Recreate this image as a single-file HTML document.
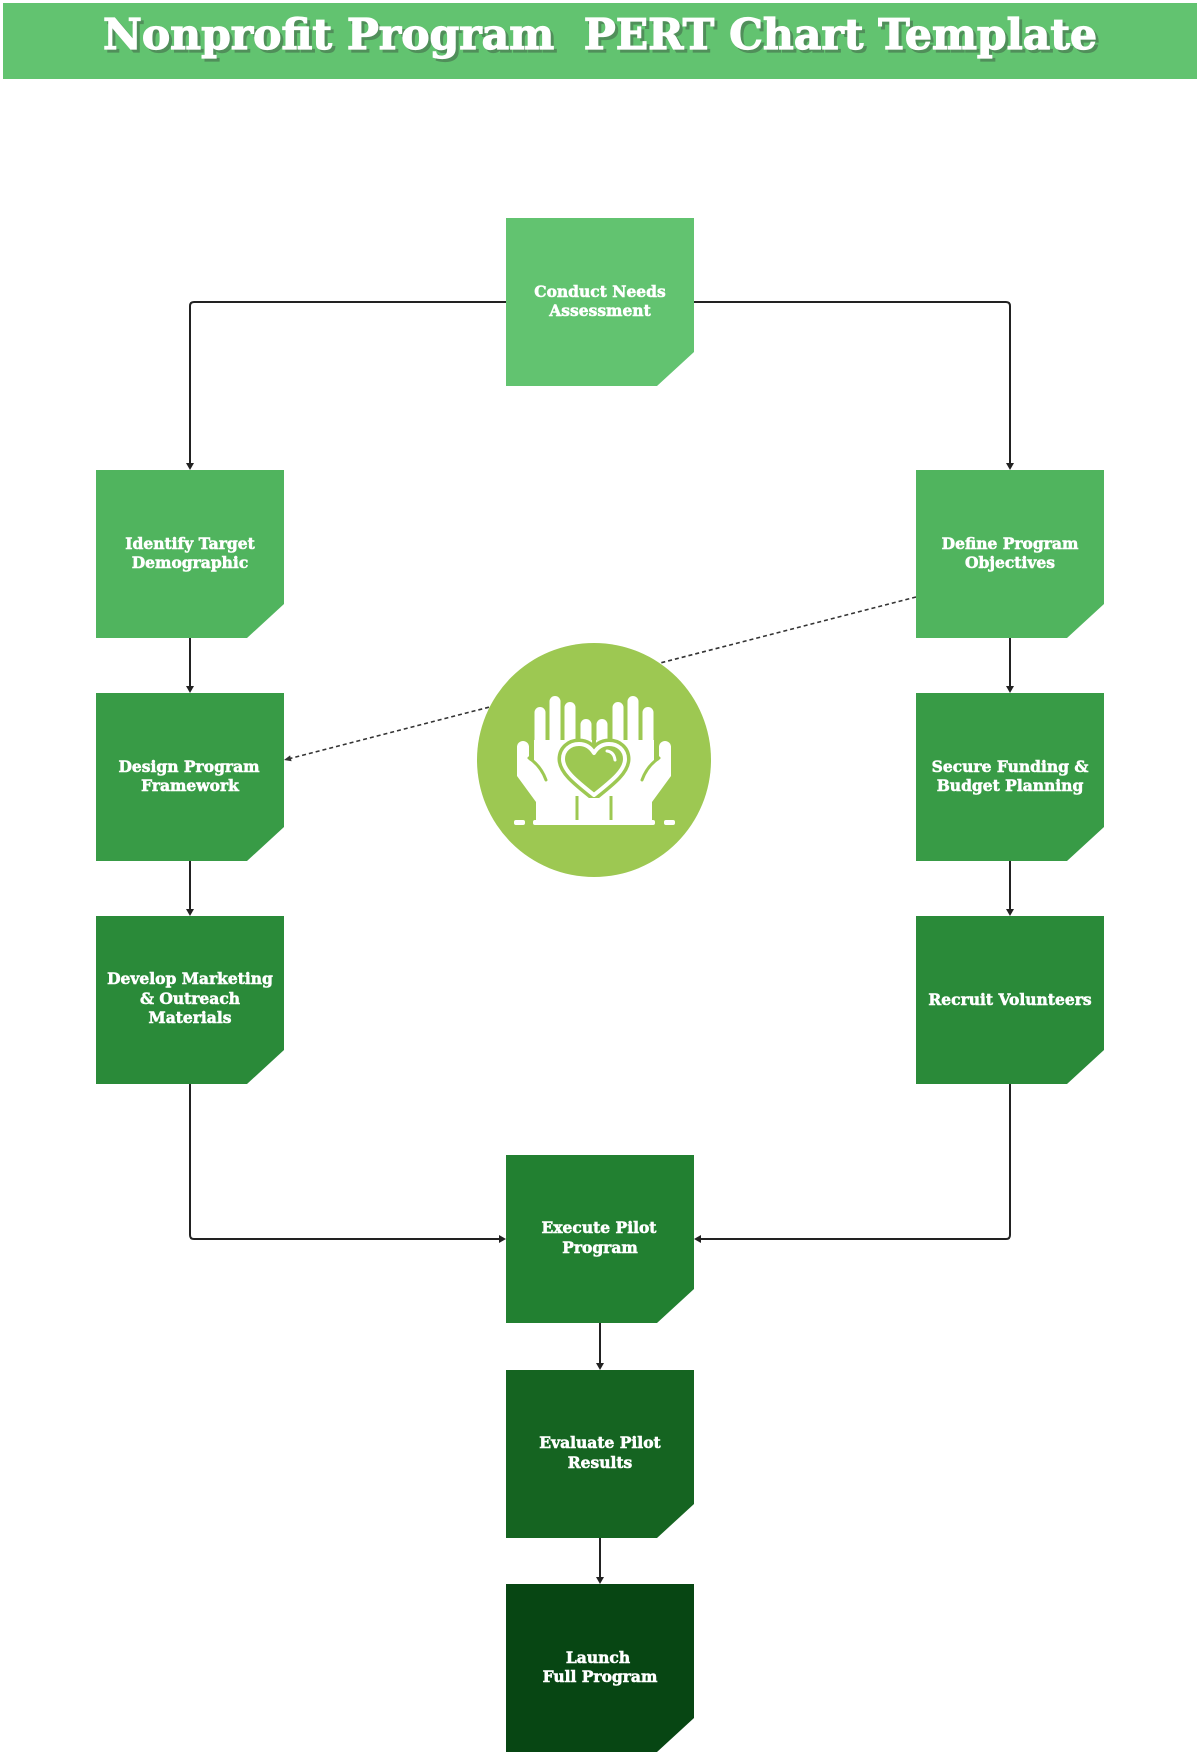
<!DOCTYPE html>
<html>
<head>
<meta charset="utf-8">
<style>
  html, body { margin:0; padding:0; background:#ffffff; }
  body { width:1200px; height:1755px; overflow:hidden; }
  svg { display:block; }
  .t { font-family:"DejaVu Serif","Liberation Serif",serif; font-weight:bold; font-size:15.5px; fill:#ffffff; stroke:#ffffff; stroke-width:0.55px; text-anchor:middle; }
  .title { font-family:"DejaVu Serif","Liberation Serif",serif; font-weight:bold; font-size:42.5px; text-anchor:middle; white-space:pre; }
</style>
</head>
<body>
<svg width="1200" height="1755" viewBox="0 0 1200 1755" xmlns="http://www.w3.org/2000/svg">
  <!-- Title bar -->
  <rect x="3" y="3" width="1194" height="76" fill="#62c370"/>
  <text class="title" x="603" y="52" fill="#4f8a58" stroke="#4f8a58" stroke-width="1.2" opacity="0.9">Nonprofit Program  PERT Chart Template</text>
  <text class="title" x="600" y="49" fill="#ffffff" stroke="#ffffff" stroke-width="1.2">Nonprofit Program  PERT Chart Template</text>

  <!-- Connectors -->
  <g fill="none" stroke="#222" stroke-width="2">
    <path d="M506 302 H194 Q190 302 190 306 V464"/>
    <path d="M694 302 H1006 Q1010 302 1010 306 V464"/>
    <path d="M190 638 V687"/>
    <path d="M190 861 V910"/>
    <path d="M1010 638 V687"/>
    <path d="M1010 861 V910"/>
    <path d="M190 1084 V1235 Q190 1239 194 1239 H499"/>
    <path d="M1010 1084 V1235 Q1010 1239 1006 1239 H701"/>
    <path d="M600 1323 V1364"/>
    <path d="M600 1538 V1578"/>
  </g>
  <g fill="#222">
    <polygon points="186,463 194,463 190,470"/>
    <polygon points="1006,463 1014,463 1010,470"/>
    <polygon points="186,686 194,686 190,693"/>
    <polygon points="186,909 194,909 190,916"/>
    <polygon points="1006,686 1014,686 1010,693"/>
    <polygon points="1006,909 1014,909 1010,916"/>
    <polygon points="499,1235 499,1243 506,1239"/>
    <polygon points="701,1235 701,1243 694,1239"/>
    <polygon points="596,1363 604,1363 600,1370"/>
    <polygon points="596,1577 604,1577 600,1584"/>
  </g>
  <!-- Dotted connector -->
  <line x1="916" y1="597" x2="290" y2="758.5" stroke="#333" stroke-width="1.6" stroke-dasharray="4,3"/>
  <polygon points="284,760 291.6,761.3 290.1,755.4" fill="#333"/>

  <!-- Boxes -->
  <polygon points="506,218 694,218 694,352 657,386 506,386" fill="#62c370"/>
  <polygon points="96,470 284,470 284,604 247,638 96,638" fill="#50b45e"/>
  <polygon points="916,470 1104,470 1104,604 1067,638 916,638" fill="#50b45e"/>
  <polygon points="96,693 284,693 284,827 247,861 96,861" fill="#389b46"/>
  <polygon points="916,693 1104,693 1104,827 1067,861 916,861" fill="#389b46"/>
  <polygon points="96,916 284,916 284,1050 247,1084 96,1084" fill="#2a8a39"/>
  <polygon points="916,916 1104,916 1104,1050 1067,1084 916,1084" fill="#2a8a39"/>
  <polygon points="506,1155 694,1155 694,1289 657,1323 506,1323" fill="#228031"/>
  <polygon points="506,1370 694,1370 694,1504 657,1538 506,1538" fill="#156421"/>
  <polygon points="506,1584 694,1584 694,1718 657,1752 506,1752" fill="#074613"/>

  <!-- Box labels -->
  <text class="t" x="600" y="297">Conduct Needs</text>
  <text class="t" x="600" y="316">Assessment</text>

  <text class="t" x="190" y="549">Identify Target</text>
  <text class="t" x="190" y="568">Demographic</text>

  <text class="t" x="1010" y="549">Define Program</text>
  <text class="t" x="1010" y="568">Objectives</text>

  <text class="t" x="189" y="772">Design Program</text>
  <text class="t" x="190" y="791">Framework</text>

  <text class="t" x="1010" y="772">Secure Funding &amp;</text>
  <text class="t" x="1010" y="791">Budget Planning</text>

  <text class="t" x="190" y="984">Develop Marketing</text>
  <text class="t" x="190" y="1004">&amp; Outreach</text>
  <text class="t" x="190" y="1023">Materials</text>

  <text class="t" x="1010" y="1005">Recruit Volunteers</text>

  <text class="t" x="599" y="1233">Execute Pilot</text>
  <text class="t" x="600" y="1253">Program</text>

  <text class="t" x="600" y="1448">Evaluate Pilot</text>
  <text class="t" x="600" y="1468">Results</text>

  <text class="t" x="598" y="1663">Launch</text>
  <text class="t" x="600" y="1682">Full Program</text>

  <!-- Center circle with hands & heart icon -->
  <circle cx="594" cy="760" r="117" fill="#9dc852"/>
  <g fill="#ffffff">
    <rect x="534.5" y="707" width="11" height="40" rx="5.5"/>
    <rect x="549.5" y="696" width="11" height="50" rx="5.5"/>
    <rect x="564.5" y="702" width="11" height="45" rx="5.5"/>
    <rect x="580.5" y="719" width="11" height="30" rx="5.5"/>
    <polygon points="517,747 529,747 529,760 534,763 534,740 592,740 594,823 536,823 536,802 517,776"/>
    <circle cx="523" cy="747" r="6"/>
  </g>
  <path d="M529 758 Q541 766 546 780" fill="none" stroke="#9dc852" stroke-width="3" stroke-linecap="round"/>
  <g transform="translate(1188,0) scale(-1,1)">
    <g fill="#ffffff">
      <rect x="534.5" y="707" width="11" height="40" rx="5.5"/>
      <rect x="549.5" y="696" width="11" height="50" rx="5.5"/>
      <rect x="564.5" y="702" width="11" height="45" rx="5.5"/>
      <rect x="580.5" y="719" width="11" height="30" rx="5.5"/>
      <polygon points="517,747 529,747 529,760 534,763 534,740 592,740 594,823 536,823 536,802 517,776"/>
      <circle cx="523" cy="747" r="6"/>
    </g>
    <path d="M529 758 Q541 766 546 780" fill="none" stroke="#9dc852" stroke-width="3" stroke-linecap="round"/>
  </g>
  <path d="M577 796 V821 M611 796 V821" stroke="#9dc852" stroke-width="3"/>
  <!-- heart -->
  <path d="M594,795 C575,780 563,770 563,759 C563,750 570,744 579,744 C586,744 591,748 594,753 C597,748 602,744 609,744 C618,744 625,750 625,759 C625,770 613,780 594,795 Z" fill="#9dc852" stroke="#9dc852" stroke-width="11" stroke-linejoin="round"/>
  <rect x="579" y="798" width="30" height="24" fill="#ffffff"/>
  <path d="M594,795 C575,780 563,770 563,759 C563,750 570,744 579,744 C586,744 591,748 594,753 C597,748 602,744 609,744 C618,744 625,750 625,759 C625,770 613,780 594,795 Z" fill="#9dc852" stroke="#ffffff" stroke-width="4" stroke-linejoin="round"/>
  <path d="M607 751 Q614 752 615 760" fill="none" stroke="#ffffff" stroke-width="3" stroke-linecap="round"/>
  <!-- base line -->
  <rect x="533" y="820" width="122" height="5" rx="2" fill="#ffffff"/>
  <rect x="514" y="820" width="11" height="5" rx="2" fill="#ffffff"/>
  <rect x="664" y="820" width="11" height="5" rx="2" fill="#ffffff"/>
</svg>
</body>
</html>
